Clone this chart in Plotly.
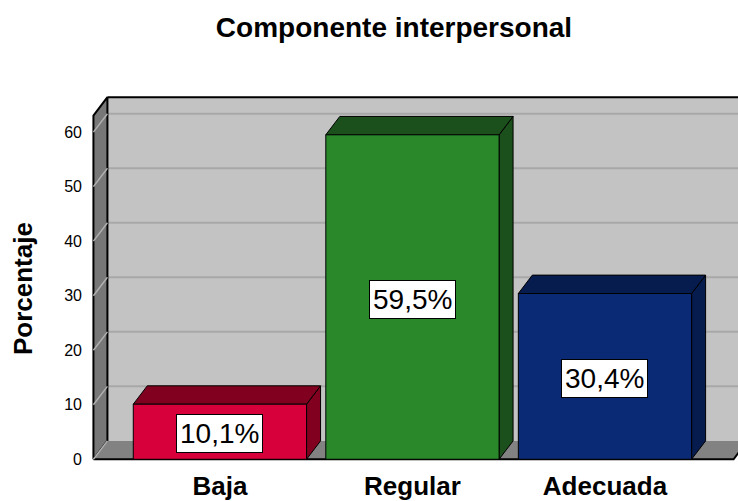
import plotly.graph_objects as go

# data
categories = ["Baja", "Regular", "Adecuada"]
percentages = [10.1, 59.5, 30.4]
y_ticks = [0, 10, 20, 30, 40, 50, 60]

FRONT = ["#d8003a", "#2a882b", "#0b2a76"]
DARK = ["#82001f", "#1b4f1b", "#061b4e"]

FONT = "Arial, Liberation Sans, sans-serif"

# fake 3d geometry (in data units)
W = 0.45           # half bar width
DX, DY = 0.0727, 3.37  # depth offset
LEFT, RIGHT = -0.657, 2.668
TOP = 66.4


def poly(xs, ys, fill, line="black", width=1):
    return go.Scatter(
        x=xs + [xs[0]], y=ys + [ys[0]], mode="lines", fill="toself",
        fillcolor=fill, line=dict(color=line, width=width),
        hoverinfo="skip", showlegend=False,
    )


def seg(xs, ys, color, width=1):
    return go.Scatter(x=xs, y=ys, mode="lines", line=dict(color=color, width=width),
                      hoverinfo="skip", showlegend=False)


fig = go.Figure()

# back wall
fig.add_trace(poly([LEFT + DX, RIGHT + DX, RIGHT + DX, LEFT + DX], [DY, DY, TOP, TOP],
                   "#c3c3c3", line="#c3c3c3", width=0))
for v in y_ticks[1:]:
    fig.add_trace(seg([LEFT + DX, RIGHT + DX], [v + DY, v + DY], "#a8a8a8", 2))
fig.add_trace(seg([LEFT + DX, RIGHT + DX + 0.2], [TOP, TOP], "black", 2))

# left wall
fig.add_trace(poly([LEFT, LEFT + DX, LEFT + DX, LEFT], [0, DY, TOP, TOP - DY],
                   "#777777", line="black", width=2))
for v in y_ticks[1:]:
    fig.add_trace(seg([LEFT, LEFT + DX], [v, v + DY], "#b0b0b0", 1.5))

# floor
fig.add_trace(poly([LEFT, RIGHT, RIGHT + DX, LEFT + DX], [0, 0, DY, DY],
                   "#828282", line="#828282", width=0))
fig.add_trace(seg([LEFT, RIGHT, RIGHT + DX], [0, 0, DY], "black", 2))
fig.add_trace(seg([LEFT, LEFT + DX], [0, DY], "#b0b0b0", 1.5))

# bars
for i, v in enumerate(percentages):
    c = i
    fig.add_trace(poly([c + W, c + W + DX, c + W + DX, c + W], [0, DY, v + DY, v], DARK[i]))
    fig.add_trace(poly([c - W, c + W, c + W + DX, c - W + DX], [v, v, v + DY, v + DY], DARK[i]))
    fig.add_trace(poly([c - W, c + W, c + W, c - W], [0, 0, v, v], FRONT[i]))
    fig.add_annotation(
        x=c, y=v / 2, yshift=-2, text=f"{v:.1f}".replace(".", ",") + "%", showarrow=False,
        font=dict(family=FONT, size=28, color="black"),
        bgcolor="white", bordercolor="black", borderwidth=1, borderpad=3,
    )

# y axis title
fig.add_annotation(
    x=-0.1017, y=0.474, xref="paper", yref="paper", xanchor="center", yanchor="middle",
    text="<b>Porcentaje</b>", textangle=-90, showarrow=False,
    font=dict(family=FONT, size=26, color="black"),
)

fig.update_layout(
    width=738, height=501, autosize=False,
    margin=dict(l=89, r=0, t=95, b=39),
    paper_bgcolor="white", plot_bgcolor="white",
    title=dict(
        text="<b>Componente interpersonal</b>",
        x=394 / 738, xref="container", xanchor="center",
        y=1 - 27.5 / 501, yref="container", yanchor="middle",
        font=dict(family=FONT, size=28, color="black"),
    ),
    showlegend=False,
)
fig.update_xaxes(
    range=[-0.68, 2.691], tickvals=list(range(len(categories))), ticktext=categories,
    tickfont=dict(family=FONT, size=26, color="black", weight="bold"),
    showgrid=False, zeroline=False, showline=False, ticks="", ticklabelstandoff=6,
)
fig.update_yaxes(
    range=[-0.5, 66.8], tickvals=y_ticks,
    tickfont=dict(family=FONT, size=16, color="black"),
    showgrid=False, zeroline=False, showline=False, ticks="", ticklabelstandoff=6,
)

# drop the default page margin so the figure fills the window exactly
fig.write_html(
    "out.html",
    config={"displayModeBar": False},
    post_script="document.body.style.margin='0';document.body.style.overflow='hidden';",
)
